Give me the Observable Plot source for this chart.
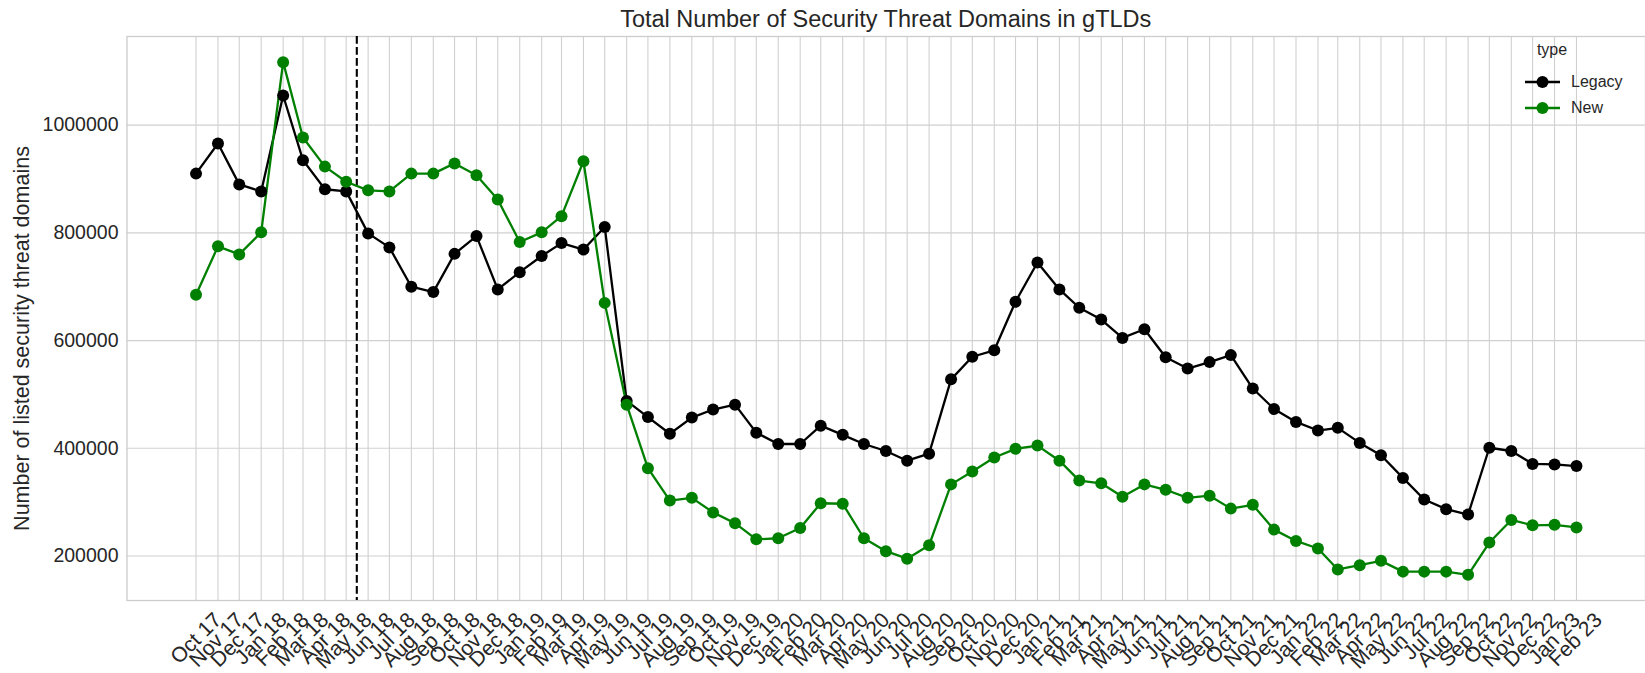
<!DOCTYPE html>
<html>
<head>
<meta charset="utf-8">
<script src="https://cdn.jsdelivr.net/npm/d3@7"></script>
<script src="https://cdn.jsdelivr.net/npm/@observablehq/plot@0.6"></script>
<style>
  body { margin: 0; background: #fff; font-family: "Liberation Sans", Arial, sans-serif; color: #262626; }
  #wrap { position: relative; width: 1645px; height: 673px; overflow: hidden; }
  #title { position: absolute; left: 126.5px; width: 1518.5px; top: 8px; text-align: center; font-size: 23.5px; line-height: 23.5px; white-space: nowrap; }
  #chart { position: absolute; left: 0; top: 0; }
  .lg { position: absolute; font-size: 16px; line-height: 16px; white-space: nowrap; }
</style>
</head>
<body>
<div id="wrap">
  <div id="chart"></div>
  <div id="title">Total Number of Security Threat Domains in gTLDs</div>
  <div id="legend"></div>
</div>
<script>
// ---- data ----
const labels = [
  "Oct 17","Nov 17","Dec 17",
  "Jan 18","Feb 18","Mar 18","Apr 18","May 18","Jun 18","Jul 18","Aug 18","Sep 18","Oct 18","Nov 18","Dec 18",
  "Jan 19","Feb 19","Mar 19","Apr 19","May 19","Jun 19","Jul 19","Aug 19","Sep 19","Oct 19","Nov 19","Dec 19",
  "Jan 20","Feb 20","Mar 20","Apr 20","May 20","Jun 20","Jul 20","Aug 20","Sep 20","Oct 20","Nov 20","Dec 20",
  "Jan 21","Feb 21","Mar 21","Apr 21","May 21","Jun 21","Jul 21","Aug 21","Sep 21","Oct 21","Nov 21","Dec 21",
  "Jan 22","Feb 22","Mar 22","Apr 22","May 22","Jun 22","Jul 22","Aug 22","Sep 22","Oct 22","Nov 22","Dec 22",
  "Jan 23","Feb 23"
];
const legacy = [
  910000, 966000, 890000,
  877000, 1055000, 935000, 881000, 877000, 799000, 773000, 700000, 690000, 761000, 794000, 695000,
  727000, 757000, 781000, 769000, 811000, 488000, 458000, 427000, 457000, 472000, 481000, 429000,
  408000, 408000, 442000, 425000, 408000, 395000, 377000, 390000, 528000, 570000, 582000, 672000,
  745000, 695000, 661000, 639000, 605000, 621000, 569000, 548000, 560000, 573000, 511000, 473000,
  449000, 433000, 438000, 410000, 387000, 345000, 305000, 287000, 277000, 401000, 395000, 371000,
  370000, 367000
];
const newer = [
  685000, 775000, 760000,
  801000, 1117000, 977000, 923000, 895000, 879000, 877000, 910000, 910000, 929000, 907000, 862000,
  783000, 801000, 831000, 933000, 670000, 481000, 363000, 303000, 308000, 281000, 261000, 231000,
  233000, 252000, 298000, 297000, 233000, 209000, 195000, 220000, 333000, 357000, 383000, 399000,
  405000, 377000, 340000, 335000, 310000, 333000, 323000, 308000, 312000, 288000, 295000, 249000,
  228000, 214000, 175000, 183000, 191000, 171000, 171000, 171000, 165000, 225000, 267000, 257000,
  258000, 253000
];
const seriesNames = ["Legacy", "New"];
const seriesColors = ["#000000", "#008000"];
const yTicks = [200000, 400000, 600000, 800000, 1000000];
const markerDate = "2018-05-16";
const yLabel = "Number of listed security threat domains";
const legendTitle = "type";

// ---- build ----
const parse = d3.utcParse("%b %y");
const dates = labels.map(parse);
const rows = [
  ...legacy.map((v, i) => ({date: dates[i], value: v, type: seriesNames[0]})),
  ...newer.map((v, i) => ({date: dates[i], value: v, type: seriesNames[1]}))
];
const x0 = +dates[0], x1 = +dates[dates.length - 1];
const padX = (x1 - x0) * 0.05;
const vals = legacy.concat(newer);
const yMin = d3.min(vals), yMax = d3.max(vals);
const padY = (yMax - yMin) * 0.05;
const labelOf = new Map(dates.map((d, i) => [+d, labels[i]]));

const chart = Plot.plot({
  width: 1645,
  height: 673,
  marginTop: 36,
  marginBottom: 73,
  marginLeft: 126.5,
  marginRight: 0,
  style: {fontFamily: '"Liberation Sans", Arial, sans-serif', color: "#262626", background: "transparent", overflow: "visible"},
  x: {type: "utc", domain: [new Date(x0 - padX), new Date(x1 + padX)]},
  y: {domain: [yMin - padY, yMax + padY]},
  color: {domain: seriesNames, range: seriesColors},
  marks: [
    Plot.gridX(dates, {stroke: "#d0d0d0", strokeOpacity: 1, strokeWidth: 1.1}),
    Plot.gridY(yTicks, {stroke: "#d0d0d0", strokeOpacity: 1, strokeWidth: 1.1}),
    Plot.frame({stroke: "#cccccc", strokeWidth: 1.3}),
    Plot.axisY(yTicks, {tickSize: 0, tickPadding: 8.5, fontSize: 19.5, tickFormat: d3.format("d"), label: null}),
    Plot.axisX(dates, {tickSize: 0, tickRotate: -45, tickPadding: 16, dx: 22, textAnchor: "end", lineAnchor: "middle",
      tickFormat: d => labelOf.get(+d), fontSize: 21, label: null}),
    Plot.ruleX([d3.utcParse("%Y-%m-%d")(markerDate)], {stroke: "#000", strokeWidth: 2.1, strokeDasharray: "7.7,3.3"}),
    Plot.line(rows, {x: "date", y: "value", z: "type", stroke: "type", strokeWidth: 2.3}),
    Plot.dot(rows, {x: "date", y: "value", fill: "type", r: 6}),
    Plot.text([yLabel], {frameAnchor: "left", textAnchor: "middle", rotate: -90, dx: -105, dy: 20, lineAnchor: "middle", fontSize: 21.5, fill: "#262626"})
  ]
});
document.getElementById("chart").appendChild(chart);

// ---- legend (HTML) ----
const lg = document.getElementById("legend");
const lx = 1525, ly = [82, 108];
lg.innerHTML =
  `<div class="lg" style="left:1527px;width:50px;text-align:center;top:42px;">${legendTitle}</div>` +
  seriesNames.map((n, i) =>
    `<svg style="position:absolute;left:${lx}px;top:${ly[i] - 8}px" width="36" height="16">` +
    `<line x1="0" x2="35" y1="8" y2="8" stroke="${seriesColors[i]}" stroke-width="2.3"/>` +
    `<circle cx="17.5" cy="8" r="6" fill="${seriesColors[i]}"/></svg>` +
    `<div class="lg" style="left:1571px;top:${ly[i] - 8}px;">${n}</div>`
  ).join("");
</script>
</body>
</html>
